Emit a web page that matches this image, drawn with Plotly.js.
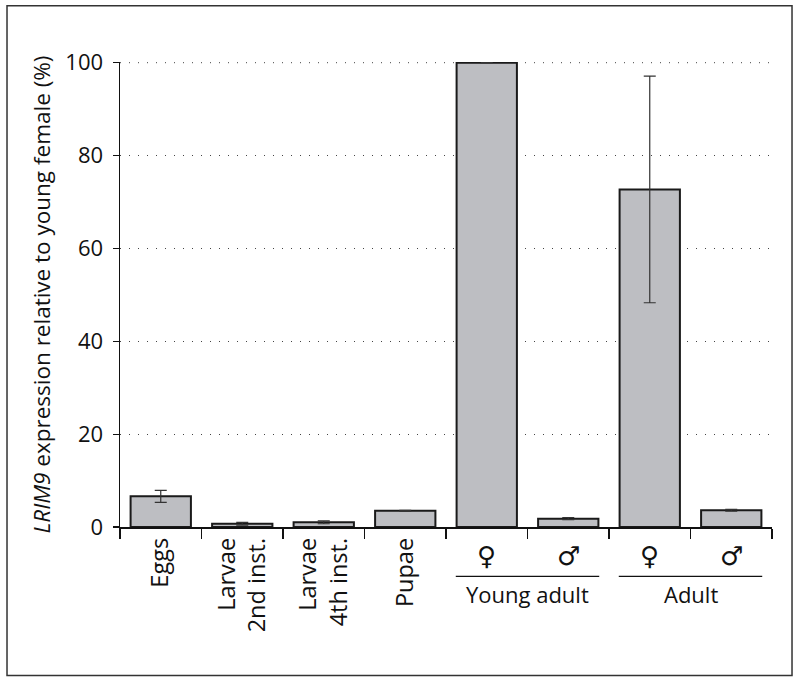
<!DOCTYPE html>
<html>
<head>
<meta charset="utf-8">
<script src="https://cdn.plot.ly/plotly-3.0.1.min.js"></script>
<style>html,body{margin:0;padding:0;background:#fff;}#chart{width:800px;height:683px;}</style>
</head>
<body>
<div id="chart"></div>
<script>
// Data
const categories = ["Eggs", "Larvae 2nd", "Larvae 4th", "Pupae", "Young female", "Young male", "Adult female", "Adult male"];
const tickLabels = ["Eggs", "Larvae<br>2nd inst.", "Larvae<br>4th inst.", "Pupae", "", "", "", ""];
const expression = [6.6, 0.7, 1.0, 3.5, 100, 1.8, 72.7, 3.6];
const errors = [1.3, 0.3, 0.3, 0.1, 0, 0.2, 24.4, 0.2];
const sexSymbols = ["", "", "", "", "\u2640", "\u2642", "\u2640", "\u2642"];
const groups = [
  {label: "Young adult", first: 4, last: 5},
  {label: "Adult", first: 6, last: 7}
];
const yTicks = [0, 20, 40, 60, 80, 100];

const FONT = "Open Sans, Noto Sans, DejaVu Sans, sans-serif";

const annotations = [];
const shapes = [];
categories.forEach((c, i) => {
  if (sexSymbols[i]) {
    annotations.push({
      x: c, xref: "x", y: -0.062, yref: "paper",
      text: sexSymbols[i], showarrow: false,
      font: {family: "DejaVu Sans, sans-serif", size: 26, color: "#111"},
      xanchor: "center", yanchor: "middle"
    });
  }
});
groups.forEach(g => {
  shapes.push({
    type: "line", xref: "x", yref: "paper",
    x0: g.first - 0.38, x1: g.last + 0.38, y0: -0.106, y1: -0.106,
    line: {color: "#111", width: 1.2}
  });
  annotations.push({
    x: (g.first + g.last) / 2, xref: "x", y: -0.145, yref: "paper",
    text: g.label, showarrow: false,
    font: {family: FONT, size: 22, color: "#111"},
    xanchor: "center", yanchor: "middle"
  });
});
// top gridline (Plotly drops the grid line at the range edge)
shapes.push({
  type: "line", xref: "paper", yref: "y", layer: "below",
  x0: 0, x1: 1, y0: yTicks[yTicks.length - 1], y1: yTicks[yTicks.length - 1],
  line: {color: "#444", width: 1, dash: "1px,8px"}
});
// figure border
shapes.push({
  type: "rect", xref: "paper", yref: "paper",
  x0: -0.1733, x1: 1.0307, y0: -0.3193, y1: 1.1212,
  line: {color: "#333", width: 1.5}, fillcolor: "rgba(0,0,0,0)"
});

const trace = {
  type: "bar",
  x: categories,
  y: expression,
  width: 0.74,
  marker: {color: "#bdbec2", line: {color: "#1a1a1a", width: 2}},
  error_y: {type: "data", array: errors, visible: true, color: "#333", thickness: 1.2, width: 6},
  hoverinfo: "none"
};

const layout = {
  width: 800, height: 683,
  margin: {l: 120, r: 28, t: 61.6, b: 156.3, pad: 0},
  paper_bgcolor: "#fff", plot_bgcolor: "#fff",
  showlegend: false,
  font: {family: FONT, size: 22, color: "#111"},
  xaxis: {
    type: "category",
    range: [-0.5, 7.5],
    tickmode: "array",
    tickvals: categories,
    ticktext: tickLabels,
    tickson: "boundaries",
    tickangle: -90,
    ticks: "outside", ticklen: 10, tickwidth: 1.2, tickcolor: "#111",
    showline: true, linecolor: "#111", linewidth: 1.5,
    showgrid: false, zeroline: false,
    tickfont: {family: FONT, size: 23.5, color: "#111"},
    automargin: false
  },
  yaxis: {
    range: [0, 100.15],
    tickmode: "array",
    tickvals: yTicks,
    ticks: "outside", ticklen: 6, tickwidth: 1.2, tickcolor: "#111",
    showline: true, linecolor: "#111", linewidth: 1.5,
    showgrid: true, gridcolor: "#444", gridwidth: 1, griddash: "1px,8px",
    zeroline: false,
    tickfont: {family: FONT, size: 22, color: "#111"},
    ticklabelstandoff: 5,
    title: {text: "<i>LRIM9</i> expression relative to young female (%)", font: {family: FONT, size: 22.5, color: "#111"}, standoff: 8},
    automargin: false
  },
  shapes: shapes,
  annotations: annotations
};

Plotly.newPlot("chart", [trace], layout, {displayModeBar: false, staticPlot: true});
</script>
</body>
</html>
